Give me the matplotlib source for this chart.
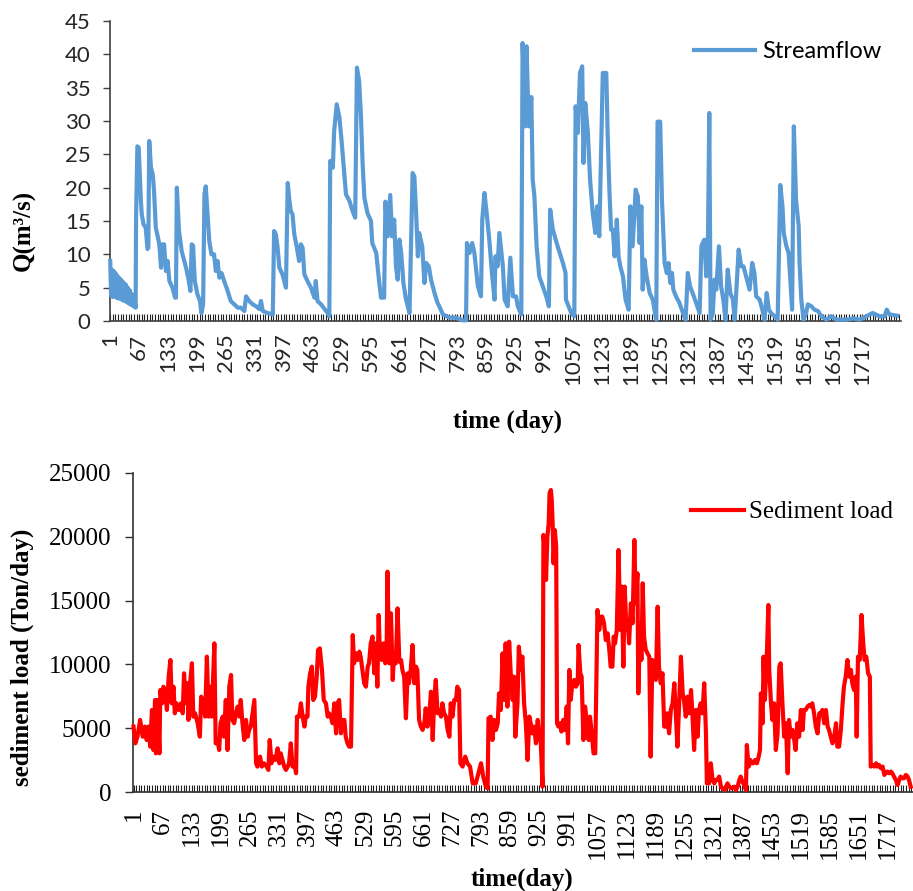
import matplotlib
matplotlib.use("Agg")
import matplotlib.pyplot as plt
from matplotlib.ticker import FixedLocator, NullFormatter

# streamflow (m3/s): day number, value
q_days = [1, 3, 5, 7, 9, 11, 13, 15, 17, 19, 21, 24, 26, 29, 31, 34, 36, 39, 41, 44, 46, 49, 51, 54, 56, 59,
          60, 63, 66, 69, 71, 73, 77, 82, 86, 88, 90, 94, 98, 101, 105, 109, 113, 117, 120, 124, 128, 132, 136,
          143, 149, 151, 153, 158, 164, 168, 174, 179, 184, 187, 190, 194, 200, 206, 209, 213, 216, 219, 223, 227,
          232, 238, 242, 246, 250, 255, 261, 269, 276, 284, 292, 299, 307, 311, 318, 326, 334, 341, 345, 349, 360,
          372, 375, 379, 383, 387, 394, 402, 406, 410, 413, 417, 421, 427, 432, 436, 440, 444, 451, 459, 467, 470,
          474, 482, 490, 497, 501, 503, 509, 512, 518, 524, 529, 534, 539, 547, 554, 560, 564, 569, 573, 577, 581,
          588, 596, 599, 608, 615, 619, 626, 629, 634, 640, 644, 649, 653, 657, 661, 665, 670, 676, 684, 691, 695,
          699, 703, 706, 713, 718, 722, 728, 733, 741, 748, 752, 760, 775, 790, 805, 813, 815, 821, 827, 832, 840,
          847, 850, 855, 860, 866, 872, 878, 880, 885, 889, 897, 901, 908, 914, 920, 927, 931, 939, 942, 948, 951,
          956, 962, 965, 969, 974, 980, 988, 996, 1002, 1005, 1011, 1022, 1034, 1040, 1041, 1053, 1060, 1063, 1068,
          1073, 1078, 1081, 1085, 1091, 1096, 1102, 1108, 1112, 1117, 1125, 1133, 1136, 1140, 1144, 1148, 1152,
          1157, 1161, 1165, 1171, 1177, 1184, 1188, 1193, 1200, 1205, 1209, 1213, 1216, 1220, 1225, 1232, 1239,
          1247, 1250, 1256, 1260, 1266, 1271, 1275, 1279, 1283, 1286, 1292, 1300, 1308, 1314, 1319, 1324, 1330,
          1338, 1346, 1350, 1353, 1357, 1361, 1365, 1368, 1371, 1376, 1380, 1384, 1390, 1395, 1400, 1405, 1410,
          1416, 1422, 1426, 1435, 1441, 1446, 1452, 1460, 1466, 1471, 1475, 1483, 1489, 1494, 1499, 1504, 1509,
          1517, 1524, 1530, 1535, 1538, 1544, 1549, 1553, 1557, 1561, 1566, 1572, 1574, 1578, 1583, 1589, 1593,
          1601, 1608, 1616, 1624, 1635, 1646, 1658, 1681, 1696, 1711, 1726, 1741, 1757, 1768, 1773, 1779, 1787,
          1797]
q_vals = [9.0, 3.8, 7.7, 3.6, 7.5, 4.2, 7.2, 3.5, 6.8, 3.4, 6.5, 3.3, 6.2, 3.1, 5.8, 3.0, 5.5, 2.8, 5.0, 2.6, 4.6,
          2.4, 4.0, 2.2, 3.2, 2.0,
          15.5, 26.2, 26.0, 21, 18, 16, 14.5, 14.0, 10.8, 11, 27, 23, 22, 19.5, 14, 12.8, 11.5, 8, 11.5, 11.5, 7.5,
          9, 6, 5, 3.5, 3.5, 20, 13.5, 10.5, 9.5, 8, 6.5, 4.5, 11.5, 11.3, 6, 4, 3, 1.2, 2.5, 19, 20.2, 16, 12, 10,
          10, 7.5, 9, 6.5, 7.2, 6, 4.5, 3, 2.5, 2, 2, 1.5, 3.7, 3, 2.5, 2.2, 1.8, 3, 1.5, 1.2,
          1.0, 13.5, 13, 11, 8, 7, 5, 20.7, 18, 16.5, 16, 13, 11, 9, 11.5, 11, 7, 6, 5, 3.5, 6,
          3, 2.5, 1.8, 1.2, 0.7, 24, 23, 28.5, 32.5, 30.5, 27, 23, 19, 18, 16.5, 15.5, 38, 36, 31, 23.5, 18.5,
          16.2, 15, 11.7, 10.2, 5.7, 3.5, 3.5, 17.9, 12.7, 18.9, 12.7, 15.2, 8.2, 6.2, 12.2, 10.2, 5.7, 3.2, 1.2,
          22.2, 21.7, 16.2, 9.7, 13.2, 11.2, 5.7, 8.7, 8.2, 6.2, 4.2, 2.7, 2.2, 1.0, 0.5, 0.5, 0.1, 0.1, 11.7,
          10.2, 11.7, 10.2, 5.2, 3.7, 15.2, 19.2, 16.2, 12.2, 7.2, 3.2, 9.7, 8.2, 13.2, 8.2, 3.2, 2.2, 9.5, 3.7,
          3.7, 2.2, 1.0, 41.7, 29.2, 41.2, 29.2, 33.6, 21.2, 18.7, 11.2, 6.7, 5.2, 3.7, 2.2, 16.7, 13.7, 11.2,
          8.7, 7.2, 3.2, 1.2, 0.7, 32.2, 28.2, 37.2, 38.2, 23.7, 32.7, 28.2, 21.2, 16.2, 13.2, 17.2, 12.7, 37.2,
          37.2, 28.2, 19.7, 13.7, 13.7, 9.7, 15.2, 9.7, 8.2, 6.7, 3.2, 1.7, 17.2, 11.2, 19.7, 18.7, 11.7, 17.2,
          4.7, 9.2, 6.7, 4.2, 3.2, 0.2, 29.9, 29.9, 18.2, 8.7, 7.2, 8.7, 5.7, 7.2, 4.7, 3.7, 2.7, 1.2, 0.2, 7.2,
          5.2, 4.2, 2.7, 1.2, 11.2, 11.7, 12.2, 6.7, 12.2, 31.2, 0.2, 1.2, 6.2, 4.7, 11.2, 5.2, 3.2, 0.2, 7.7,
          4.2, 3.2, 0.2, 10.7, 8.2, 8.2, 6.7, 4.7, 8.7, 7.2, 3.7, 3.2, 1.7, 0.2, 4.2, 1.7, 1.2, 0.7, 0.2, 20.4,
          17.2, 13.2, 11.2, 10.2, 6.2, 1.7, 29.2, 18.2, 14.2, 8.7, 3.2, 0.2, 1.2, 2.5, 2.2, 1.7, 1.5, 0.7, 0.2,
          0.7, 0.2, 0.2, 0.4, 0.2, 0.7, 1.2, 0.7, 0.7, 1.7, 1.0, 0.9, 0.8]

# sediment load (Ton/day): day number, value
s_days = [1, 5, 10, 16, 22, 27, 31, 35, 39, 43, 46, 50, 52, 56, 60, 62, 66, 69, 73, 77, 81, 85, 88, 92, 95, 99,
          104, 109, 113, 116, 120, 124, 126, 129, 134, 137, 141, 147, 152, 155, 160, 164, 168, 172, 176, 179, 185,
          188, 192, 196, 199, 204, 207, 211, 215, 219, 223, 226, 230, 234, 238, 242, 245, 249, 253, 257, 261, 264,
          268, 273, 276, 280, 283, 289, 293, 298, 304, 308, 311, 315, 319, 324, 329, 333, 336, 340, 344, 348, 352,
          355, 359, 363, 367, 371, 373, 378, 382, 386, 390, 393, 397, 399, 403, 407, 410, 414, 418, 421, 425, 430,
          434, 439, 443, 446, 450, 454, 458, 462, 465, 469, 473, 477, 481, 484, 488, 492, 496, 500, 503, 507, 511,
          515, 518, 522, 526, 530, 534, 537, 541, 545, 549, 553, 556, 559, 562, 566, 570, 574, 577, 579, 583, 587,
          591, 594, 598, 602, 606, 610, 613, 617, 621, 625, 628, 632, 636, 640, 644, 647, 651, 655, 659, 663, 666,
          670, 674, 678, 682, 685, 689, 693, 697, 701, 704, 708, 712, 716, 720, 723, 727, 731, 735, 738, 742, 745,
          750, 756, 761, 767, 773, 780, 786, 792, 797, 803, 807, 809, 814, 818, 822, 826, 830, 833, 837, 841, 845,
          848, 852, 856, 860, 864, 867, 870, 875, 878, 883, 886, 890, 894, 898, 902, 905, 909, 913, 917, 921, 924,
          928, 932, 934, 938, 940, 943, 946, 948, 951, 953, 955, 957, 960, 963, 965, 968, 972, 975, 979, 983, 987,
          990, 993, 996, 1000, 1004, 1008, 1012, 1014, 1018, 1021, 1025, 1029, 1033, 1037, 1040, 1044, 1048, 1052,
          1055, 1057, 1061, 1065, 1068, 1072, 1076, 1080, 1084, 1087, 1091, 1094, 1097, 1101, 1105, 1109, 1112,
          1116, 1119, 1123, 1126, 1129, 1133, 1137, 1141, 1144, 1148, 1150, 1154, 1157, 1160, 1163, 1167, 1171,
          1175, 1178, 1182, 1186, 1190, 1194, 1197, 1201, 1205, 1209, 1213, 1216, 1220, 1224, 1228, 1232, 1235,
          1239, 1243, 1247, 1251, 1254, 1258, 1262, 1266, 1270, 1273, 1277, 1281, 1285, 1288, 1292, 1296, 1300,
          1304, 1306, 1311, 1315, 1319, 1323, 1326, 1330, 1334, 1338, 1342, 1347, 1353, 1357, 1361, 1368, 1372,
          1376, 1380, 1383, 1387, 1391, 1395, 1397, 1401, 1405, 1408, 1412, 1416, 1420, 1424, 1427, 1429, 1433,
          1435, 1438, 1442, 1446, 1448, 1452, 1455, 1459, 1463, 1467, 1471, 1474, 1478, 1482, 1486, 1490, 1493,
          1497, 1501, 1505, 1508, 1512, 1516, 1520, 1524, 1527, 1531, 1535, 1539, 1543, 1546, 1550, 1554, 1558,
          1562, 1565, 1569, 1573, 1577, 1581, 1584, 1588, 1592, 1596, 1600, 1603, 1607, 1611, 1615, 1618, 1622,
          1626, 1630, 1634, 1637, 1641, 1645, 1647, 1650, 1654, 1658, 1662, 1665, 1669, 1673, 1677, 1679, 1683,
          1687, 1691, 1694, 1698, 1702, 1706, 1710, 1713, 1717, 1721, 1725, 1728, 1732, 1736, 1740, 1744, 1747,
          1751, 1755, 1759, 1763, 1766, 1770]
s_vals = [5140, 3830, 4350, 5660, 4350, 5140, 4090, 5140, 3570, 6440, 3310, 7220, 3050, 7220, 3050, 8000, 6960,
          8260, 8000, 6440, 9050, 10350, 6960, 8260, 6180, 6960, 6440, 6960, 6180, 9310, 6960, 8530, 5660, 8260,
          10090, 5920, 6180, 5400, 4350, 7480, 6960, 5920, 10610, 5920, 8260, 5920, 11650, 3830, 4090, 3310, 5400,
          5920, 4350, 7220, 3310, 8260, 9180, 5660, 5400, 6180, 6700, 5920, 7220, 5400, 4090, 5660, 4350, 4880,
          5140, 6440, 7220, 2270, 2010, 2790, 2010, 2270, 2010, 1750, 4090, 2270, 2790, 2530, 3440, 2270, 3050,
          2530, 2010, 1750, 2010, 2270, 3830, 2010, 2270, 1490, 5920, 5920, 6960, 5920, 5140, 5920, 5920, 8260,
          9310, 9830, 7220, 7480, 9050, 11130, 11260, 9570, 7220, 6960, 5920, 6180, 5920, 5400, 6960, 4610, 6960,
          7220, 4610, 5660, 5660, 4350, 3830, 3570, 3570, 12300, 10090, 10870, 10350, 11000, 10610, 9570, 8530,
          8260, 9830, 10090, 11650, 12180, 9310, 11650, 8260, 13870, 10610, 10350, 11650, 10090, 10610, 17260,
          10090, 14000, 8790, 10870, 10090, 14390, 10220, 10350, 9570, 9050, 5790, 9310, 8530, 9570, 11520, 8530,
          9830, 9570, 5660, 5140, 4880, 5400, 6570, 5140, 5920, 7870, 4090, 6960, 8790, 6180, 6440, 5920, 6960,
          6180, 5920, 4880, 4350, 6960, 5920, 7220, 7220, 8260, 8000, 2270, 2010, 2790, 2270, 2010, 700, 700,
          1490, 2270, 1230, 440, 310, 5790, 5920, 4090, 5660, 4880, 5400, 7740, 6440, 10870, 7220, 11650, 6700,
          11780, 9050, 7220, 9050, 4350, 6960, 11390, 9570, 10610, 6960, 5400, 2530, 5920, 5400, 4610, 5140, 3830,
          5660, 4610, 3830, 440, 20130, 18950, 16610, 20000, 21040, 23390, 23650, 22860, 21040, 17910, 20520,
          19210, 5400, 5140, 5400, 4750, 5660, 4880, 6700, 3830, 9570, 7220, 8530, 8790, 8260, 8530, 11520, 9310,
          9050, 4090, 6700, 5400, 4090, 5920, 4610, 3050, 3050, 9570, 14260, 12700, 13740, 13740, 13220, 11910,
          12440, 11130, 9830, 9830, 12180, 11650, 12700, 18950, 12700, 16090, 9830, 16090, 12700, 13220, 11650,
          14780, 13220, 19740, 14780, 17130, 7740, 12960, 10350, 16350, 12180, 11130, 10870, 10610, 2790, 10350,
          9050, 8790, 14520, 9830, 8530, 9310, 5140, 5140, 6180, 4610, 6440, 6960, 8530, 6440, 3570, 6960, 10610,
          7740, 7220, 5920, 7480, 6180, 8000, 6180, 3310, 6440, 4350, 6440, 6960, 6180, 8530, 4610, 700, 700, 2270,
          970, 700, 970, 970, 1230, 440, 310, 180, 700, 440, 310, 440, 180, 440, 970, 1230, 830, 570, 180, 3700,
          2010, 2530, 2270, 2270, 2530, 2270, 2790, 3310, 7740, 5400, 10610, 7220, 10090, 14650, 9570, 6960, 5660,
          6960, 3310, 4610, 9830, 10090, 6960, 4350, 5400, 1490, 5660, 4350, 4880, 4090, 3310, 5400, 4350, 6440,
          4880, 6440, 6440, 6700, 6830, 6700, 6960, 6180, 5140, 4610, 6180, 6180, 6440, 5400, 6440, 5140, 4880,
          4350, 3830, 4350, 5400, 3570, 3570, 4880, 6960, 8260, 9050, 10350, 9050, 9570, 8530, 8000, 9050, 4350,
          10610, 10350, 13870, 11650, 10350, 10610, 9310, 9050, 2010, 2140, 2010, 2270, 2010, 2140, 1880, 2010,
          1360, 1490, 1620, 1490, 1620, 1490, 1230, 970, 570, 970, 1230, 1100, 1100, 1360, 1230, 970, 440]

n_days = 1805
label_days = list(range(1, 1718, 66))
mark_days = list(range(1, n_days + 1, 6))

fig = plt.figure(figsize=(9.13, 8.91), dpi=100)

# ---------------- top: streamflow ----------------
ax1 = fig.add_axes([110 / 913, 1 - 321 / 891, 791 / 913, 300 / 891])
ax1.plot(q_days, q_vals, color="#5B9BD5", lw=3.0, label="Streamflow",
         solid_joinstyle="round", clip_on=False, zorder=3)
ax1.set_xlim(0.5, n_days + 0.5)
ax1.set_ylim(0, 45)
ax1.set_yticks(range(0, 46, 5))
ax1.xaxis.set_major_locator(FixedLocator(label_days))
ax1.xaxis.set_minor_locator(FixedLocator(mark_days))
ax1.xaxis.set_minor_formatter(NullFormatter())
ax1.set_xticklabels([str(d) for d in label_days], rotation=90, va="top", ha="center")
for s in ["top", "right"]:
    ax1.spines[s].set_visible(False)
for s in ["left", "bottom"]:
    ax1.spines[s].set_color("#404040")
    ax1.spines[s].set_linewidth(1.2)
ax1.tick_params(axis="both", labelsize=16, labelfontfamily="Lato", labelcolor="#262626")
ax1.tick_params(axis="x", which="both", direction="in", length=5, width=0.8, color="#202020", pad=9)
ax1.tick_params(axis="y", direction="out", length=5, width=1, color="#404040", pad=9)
ax1.legend(loc="center right", bbox_to_anchor=(0.975, 0.897), frameon=False,
           borderpad=0, borderaxespad=0, handlelength=2.6, handletextpad=0.3,
           prop={"family": "Lato", "size": 17})
fig.text(24 / 913, 1 - 230 / 891, "Q(m³/s)", rotation=90, ha="center", va="center",
         family="Liberation Serif", fontweight="bold", fontsize=18)
fig.text(507 / 913, 1 - 421 / 891, "time (day)", ha="center", va="center",
         family="Liberation Serif", fontweight="bold", fontsize=18)

# ---------------- bottom: sediment load ----------------
ax2 = fig.add_axes([133.3 / 913, 1 - 792.3 / 891, 793 / 913, 319.6 / 891])
ax2.plot(s_days, s_vals, color="#FF0000", lw=3.0, label="Sediment load",
         solid_joinstyle="round", clip_on=False, zorder=3)
ax2.set_xlim(0.5, n_days + 0.5)
ax2.set_ylim(0, 25000)
ax2.set_yticks(range(0, 25001, 5000))
ax2.xaxis.set_major_locator(FixedLocator(label_days))
ax2.xaxis.set_minor_locator(FixedLocator(mark_days))
ax2.xaxis.set_minor_formatter(NullFormatter())
ax2.set_xticklabels([str(d) for d in label_days], rotation=90, va="top", ha="center")
for s in ["top", "right"]:
    ax2.spines[s].set_visible(False)
for s in ["left", "bottom"]:
    ax2.spines[s].set_color("#303030")
    ax2.spines[s].set_linewidth(1.2)
ax2.tick_params(axis="both", labelsize=18, labelfontfamily="Liberation Serif", labelcolor="black")
ax2.tick_params(axis="x", which="both", direction="in", length=5, width=0.8, color="#202020", pad=12)
ax2.tick_params(axis="y", direction="out", length=6, width=1, color="#303030", pad=10)
ax2.legend(loc="center right", bbox_to_anchor=(0.958, 0.877), frameon=False,
           borderpad=0, borderaxespad=0, handlelength=2.1, handletextpad=0.2,
           prop={"family": "Liberation Serif", "size": 18})
fig.text(22 / 913, 1 - 657 / 891, "sediment load (Ton/day)", rotation=90, ha="center", va="center",
         family="Liberation Serif", fontweight="bold", fontsize=18)
fig.text(522 / 913, 1 - 879 / 891, "time(day)", ha="center", va="center",
         family="Liberation Serif", fontweight="bold", fontsize=18)

fig.savefig("out.png", dpi=100)
